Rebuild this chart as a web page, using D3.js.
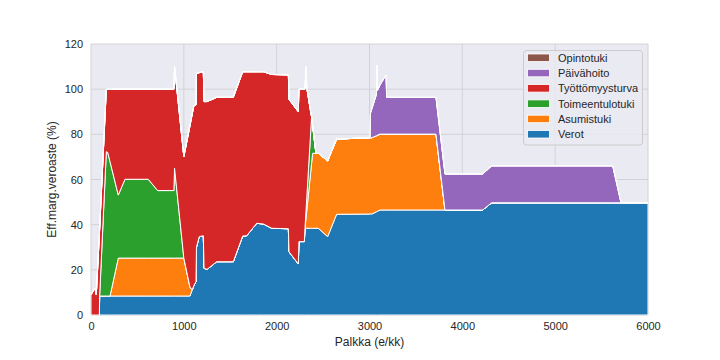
<!DOCTYPE html>
<html>
<head>
<meta charset="utf-8">
<script src="https://cdn.jsdelivr.net/npm/d3@7/dist/d3.min.js"></script>
<style>
  body { margin: 0; background: #fff; }
  svg { display: block; font-family: "Liberation Sans", Arial, sans-serif; }
</style>
</head>
<body>
<svg id="chart" width="720" height="360"></svg>
<script>
// Palkka (e/kk) sample points
const palkka = [0, 46, 57, 90, 93, 165, 180, 205, 294, 366, 617, 718, 893, 900, 1000,
  1066, 1090, 1110, 1131, 1136, 1166, 1210, 1218, 1250, 1354, 1533, 1634, 1677, 1785, 1857,
  1947, 2126, 2133, 2233, 2240, 2298, 2305, 2316, 2325, 2366, 2376, 2387, 2423, 2449, 2549,
  2646, 3005, 3010, 3024, 3075, 3080, 3085, 3113, 3178, 3185, 3716, 3813, 4219, 4316, 5620,
  5709, 6000];

const verot = [0, 0, 0, 0, 8.4, 8.4, 8.4, 8.4, 8.4, 8.4, 8.4, 8.4, 8.4, 8.4, 8.4,
  8.4, 11.1, 13.2, 14.8, 30, 34.7, 35.1, 20.7, 20.2, 23.6, 23.6, 35, 35.1, 40.6, 40.3,
  38.4, 38.2, 28, 22.6, 32.5, 32.5, 38.4, 38.4, 38.4, 38.4, 38.4, 38.4, 38.4, 38.4, 34.7,
  44.6, 44.7, 44.8, 44.7, 45.7, 45.8, 45.9, 46.5, 46.5, 46.5, 46.5, 46.5, 46.5, 49.7, 49.7,
  49.7, 49.7];

const asumistuki = [0, 0, 0, 0, 0, 0, 0, 0, 16.8, 16.8, 16.8, 16.8, 16.8, 16.8, 16.8,
  4.0, 0, 0, 0, 0, 0, 0, 0, 0, 0, 0, 0, 0, 0, 0,
  0, 0, 0, 0, 0, 0, 0, 4.5, 8.1, 24.7, 28.7, 33.2, 33.2, 33.2, 33.5,
  33.3, 33.8, 33.7, 33.8, 33.7, 33.7, 33.7, 33.6, 33.6, 33.6, 33.6, 0, 0, 0, 0,
  0, 0];

const toimeentulotuki = [0, 0, 0, 0, 0, 63.9, 63.6, 59.5, 27.9, 34.9, 34.9, 29.9, 29.9, 39.8, 0,
  0, 0, 0, 0, 0, 0, 0, 0, 0, 0, 0, 0, 0, 0, 0,
  0, 0, 0, 0, 0, 0, 0, 3.2, 5.8, 17.7, 20.7, 12.4, 0, 0, 0,
  0, 0, 0, 0, 0, 0, 0, 0, 0, 0, 0, 0, 0, 0, 0,
  0, 0];

const tyottomyysturva = [9, 12, 9, 35.4, 29.5, 27.7, 28, 32.1, 46.9, 39.9, 39.9, 44.9, 44.9, 45, 44.9,
  71.4, 77.8, 79.8, 78.2, 77, 72.6, 72.6, 73.8, 74.3, 72.8, 72.8, 72.7, 72.6, 67.1, 67.4,
  68.1, 68.1, 67.5, 67.4, 67.5, 67.5, 61.6, 63.9, 48.1, 9.2, 0, 0, 0, 0, 0,
  0, 0, 0, 0, 0, 0, 0, 0, 0, 0, 0, 0, 0, 0, 0,
  0, 0];

const paivahoito = [0, 0, 0, 0, 0, 0, 0, 0, 0, 0, 0, 0, 0, 0, 0,
  0, 0, 0, 0, 0, 0, 0, 0, 0, 0, 0, 0, 0, 0, 0,
  0, 0, 0, 0, 0, 0, 0, 0, 0, 0, 0, 0, 0, 0, 0,
  0, 0, 10.8, 12.6, 18.3, 31.2, 19.8, 21.7, 26.2, 16.3, 16.3, 15.9, 15.9, 16.3, 16.3,
  0, 0];

const opintotuki = palkka.map(() => 0);

const seriesNames = ["Verot", "Asumistuki", "Toimeentulotuki", "Työttömyysturva", "Päivähoito", "Opintotuki"];
const seriesColors = ["#1f77b4", "#ff7f0e", "#2ca02c", "#d62728", "#9467bd", "#8c564b"];
const xTicks = [0, 1000, 2000, 3000, 4000, 5000, 6000];
const yTicks = [0, 20, 40, 60, 80, 100, 120];

const seriesValues = [verot, asumistuki, toimeentulotuki, tyottomyysturva, paivahoito, opintotuki];
const rows = palkka.map((x, i) => {
  const r = { x };
  seriesNames.forEach((n, k) => r[n] = seriesValues[k][i]);
  return r;
});

const svg = d3.select("#chart");
const margin = { left: 91, top: 44, right: 72, bottom: 45 };
const W = 720, H = 360;
const iw = W - margin.left - margin.right;
const ih = H - margin.top - margin.bottom;

const x = d3.scaleLinear().domain([0, 6000]).range([margin.left, margin.left + iw]);
const y = d3.scaleLinear().domain([0, 120]).range([margin.top + ih, margin.top]);

svg.append("rect").attr("x", margin.left).attr("y", margin.top)
  .attr("width", iw).attr("height", ih).attr("fill", "#eaeaf2");

const gridColor = "#d2d2d6";
svg.append("g").selectAll("line").data(xTicks).join("line")
  .attr("x1", d => x(d)).attr("x2", d => x(d))
  .attr("y1", margin.top).attr("y2", margin.top + ih)
  .attr("stroke", gridColor).attr("stroke-width", 1);
svg.append("g").selectAll("line").data(yTicks).join("line")
  .attr("y1", d => y(d)).attr("y2", d => y(d))
  .attr("x1", margin.left).attr("x2", margin.left + iw)
  .attr("stroke", gridColor).attr("stroke-width", 1);

const stack = d3.stack().keys(seriesNames);
const stacked = stack(rows);
const area = d3.area()
  .x(d => x(d.data.x))
  .y0(d => y(d[0]))
  .y1(d => y(d[1]));

svg.append("clipPath").attr("id", "clip").append("rect")
  .attr("x", margin.left).attr("y", margin.top - 10).attr("width", iw).attr("height", ih + 10);

svg.append("g").attr("clip-path", "url(#clip)")
  .selectAll("path").data(stacked).join("path")
  .attr("d", area)
  .attr("fill", (d, i) => seriesColors[i])
  .attr("stroke", "#ffffff")
  .attr("stroke-width", 1)
  .attr("stroke-linejoin", "miter");

// axes (labels only, no tick marks)
const axX = svg.append("g").attr("transform", `translate(0,${margin.top + ih})`)
  .call(d3.axisBottom(x).tickValues(xTicks).tickSize(0).tickPadding(7).tickFormat(d3.format("d")));
axX.select(".domain").remove();
axX.selectAll("text").attr("font-size", 11).attr("fill", "#262626")
  .attr("font-family", "Liberation Sans, Arial, sans-serif");

const axY = svg.append("g").attr("transform", `translate(${margin.left},0)`)
  .call(d3.axisLeft(y).tickValues(yTicks).tickSize(0).tickPadding(8).tickFormat(d3.format("d")));
axY.select(".domain").remove();
axY.selectAll("text").attr("font-size", 11).attr("fill", "#262626")
  .attr("font-family", "Liberation Sans, Arial, sans-serif");

svg.append("text").attr("x", margin.left + iw / 2).attr("y", 346)
  .attr("text-anchor", "middle").attr("font-size", 12).attr("fill", "#262626")
  .text("Palkka (e/kk)");
svg.append("text")
  .attr("transform", `translate(56,${margin.top + ih / 2}) rotate(-90)`)
  .attr("text-anchor", "middle").attr("font-size", 12).attr("fill", "#262626")
  .text("Eff.marg.veroaste (%)");

// legend (reverse order)
const legendItems = seriesNames.map((n, i) => ({ n, c: seriesColors[i] })).reverse();
const lg = svg.append("g");
lg.append("rect").attr("x", 523.5).attr("y", 50.5).attr("width", 119).attr("height", 94.5)
  .attr("rx", 3).attr("fill", "#eaeaf2").attr("fill-opacity", 0.8)
  .attr("stroke", "#cccccc").attr("stroke-width", 1);
const li = lg.selectAll("g").data(legendItems).join("g")
  .attr("transform", (d, i) => `translate(0,${57.7 + i * 15.3})`);
li.append("rect").attr("x", 527.5).attr("y", -3.7).attr("width", 22).attr("height", 7.5)
  .attr("fill", d => d.c).attr("stroke", "#ffffff").attr("stroke-width", 0.8);
li.append("text").attr("x", 558).attr("y", 4).attr("font-size", 11).attr("fill", "#262626")
  .text(d => d.n);
</script>
</body>
</html>
